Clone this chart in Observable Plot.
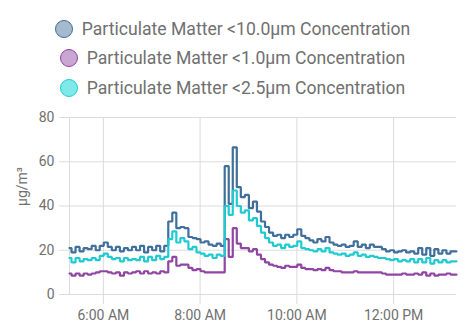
<!DOCTYPE html>
<html><head><meta charset="utf-8">
<script src="https://cdn.jsdelivr.net/npm/d3@7"></script>
<script src="https://cdn.jsdelivr.net/npm/@observablehq/plot@0.6"></script>
<style>
body{margin:0;background:#fff;font-family:Roboto,sans-serif;}
#wrap{position:relative;width:465px;height:336px;overflow:hidden;background:#fff}
#legend{position:absolute;top:14px;left:0;width:465px}
.row{display:flex;justify-content:center;align-items:center;height:29.5px;color:#707070;font-size:17.6px;white-space:nowrap}
.dot{width:16px;height:16px;border-radius:50%;border:1.5px solid;margin-right:9px;box-sizing:content-box}
#chart{position:absolute;top:100px;left:0}
</style></head><body>
<div id="wrap"><div id="legend"></div><div id="chart"></div></div>
<script>
const seriesNames = ["Particulate Matter <10.0μm Concentration","Particulate Matter <1.0μm Concentration","Particulate Matter <2.5μm Concentration"];
const lineColors = ["#3f6f9a","#9045a3","#1fcbd1"];
const dotFills = ["#a5b9cf","#caa6d3","#7fe9e9"];
const yLabel = "μg/m³";
const yTicks = [0,20,40,60,80];
const startTime = Date.UTC(2023,0,1,5,18);
const stepMinutes = 5;
const xTickHours = [6,8,10,12];

const pm10 = [21,19,21.5,19.5,21,20.5,22,20,22,23.5,21.5,20,21.5,19.5,21,20,21.5,20,22,19,21.5,20,22,19.5,22,
  33,37,30,30.5,30,26,25.5,25,23.5,24,22.5,22,23,22,
  58,41,66.5,48.5,44,45,39,42,37.5,33,30.5,28,26.5,27,25.5,27,26,27,29.5,26.5,25.5,24.5,23.5,25,24,26,23.5,22.5,22,22.5,21.5,22,24,21.5,22.5,21,22.5,21.5,21.5,20.5,19.5,20,19,19.5,20,19,19.5,18.5,21,18,21,17.5,20.5,18.5,20,18.5,19.5,19.5];
const pm1 = [9.5,8.5,9.5,8.5,9.5,9,9.5,10,10.5,10.5,10,9.5,10,8.5,10,9.5,10,10.5,9.5,10.5,9.5,10,9.5,10.5,10,
  15,17,13,13.5,13.5,12,11,11.5,10.5,10,10,10,10,10,
  25,17,30,23,21,21,19.5,20.5,18,16,14.5,13.5,13,12.5,12,13,12.5,12.5,13.5,12,11.5,11.5,11,11.5,11,12,11,10.5,10.5,10,10,10,10.5,10,10,10,10,10,10,9.5,9,9,9,9,9.5,9,9,9.5,9,10,8.5,9.5,8.5,9,9,9.5,9,9];
const pm25 = [16.5,14.5,16.5,15,16,15.5,16.5,15.5,17.5,18.5,17,16,16.5,15,16.5,15.5,16,15.5,17,15,17,15.5,17.5,16,17,
  25,28.5,23.5,25.5,24,20.5,21.5,19,18.5,17.5,18,16.5,18,17.5,
  40,36,47,40,37,38,33.5,34.5,31,28,25.5,23.5,22,22.5,21,22.5,21.5,22,24,21,20.5,20,19.5,20.5,19.5,21,19,18.5,18,18.5,17.5,18,19,17.5,18,17,17.5,17,16.5,16.5,16,15.5,16,15,15.5,15,16,14.5,16,14.5,16.5,14,15.5,14.5,15.5,14.5,15,15];

const times = pm10.map((_, i) => new Date(startTime + i*stepMinutes*60000));
const seriesValues = [pm10, pm1, pm25];
const rows = [];
seriesValues.forEach((vals, s) => vals.forEach((v, i) => rows.push({t: times[i], v, s: seriesNames[s]})));
const t0 = times[0], t1 = times[times.length-1];
const xTicks = xTickHours.map(h => new Date(Date.UTC(2023,0,1,h)));

// legend
const legend = document.getElementById("legend");
seriesNames.forEach((n, i) => {
  const r = document.createElement("div"); r.className = "row";
  const d = document.createElement("span"); d.className = "dot";
  d.style.background = dotFills[i]; d.style.borderColor = lineColors[i];
  const t = document.createElement("span"); t.textContent = n;
  r.appendChild(d); r.appendChild(t); legend.appendChild(r);
});

const grid = "#dcdcdc";
const chart = Plot.plot({
  width: 465, height: 236,
  marginTop: 17, marginBottom: 42, marginLeft: 69, marginRight: 9,
  style: {fontFamily: "Roboto, sans-serif", fontSize: "14px", color: "#707070", background: "transparent", overflow: "visible"},
  x: {type: "utc", domain: [t0, t1]},
  y: {domain: [0, 80]},
  color: {domain: seriesNames, range: lineColors},
  marks: [
    Plot.gridY(yTicks, {stroke: grid, strokeOpacity: 1}),
    Plot.gridX(xTicks, {stroke: grid, strokeOpacity: 1}),
    Plot.ruleX([t0], {stroke: grid}),
    Plot.axisY(yTicks, {tickSize: 10, tickPadding: 5, stroke: grid, strokeOpacity: 1, fill: "#707070", label: null}),
    Plot.axisX(xTicks, {tickSize: 10, tickPadding: 6, stroke: grid, strokeOpacity: 1, fill: "#707070", label: null, tickFormat: d3.utcFormat("%-I:%M %p")}),
    Plot.text([yLabel], {frameAnchor: "left", rotate: -90, dx: -47, fill: "#707070", fontSize: 14}),
    Plot.lineY(rows, {x: "t", y: "v", z: "s", stroke: "s", strokeWidth: 2.2, curve: "step", strokeLinejoin: "miter"})
  ]
});
document.getElementById("chart").appendChild(chart);
</script>
</body></html>
